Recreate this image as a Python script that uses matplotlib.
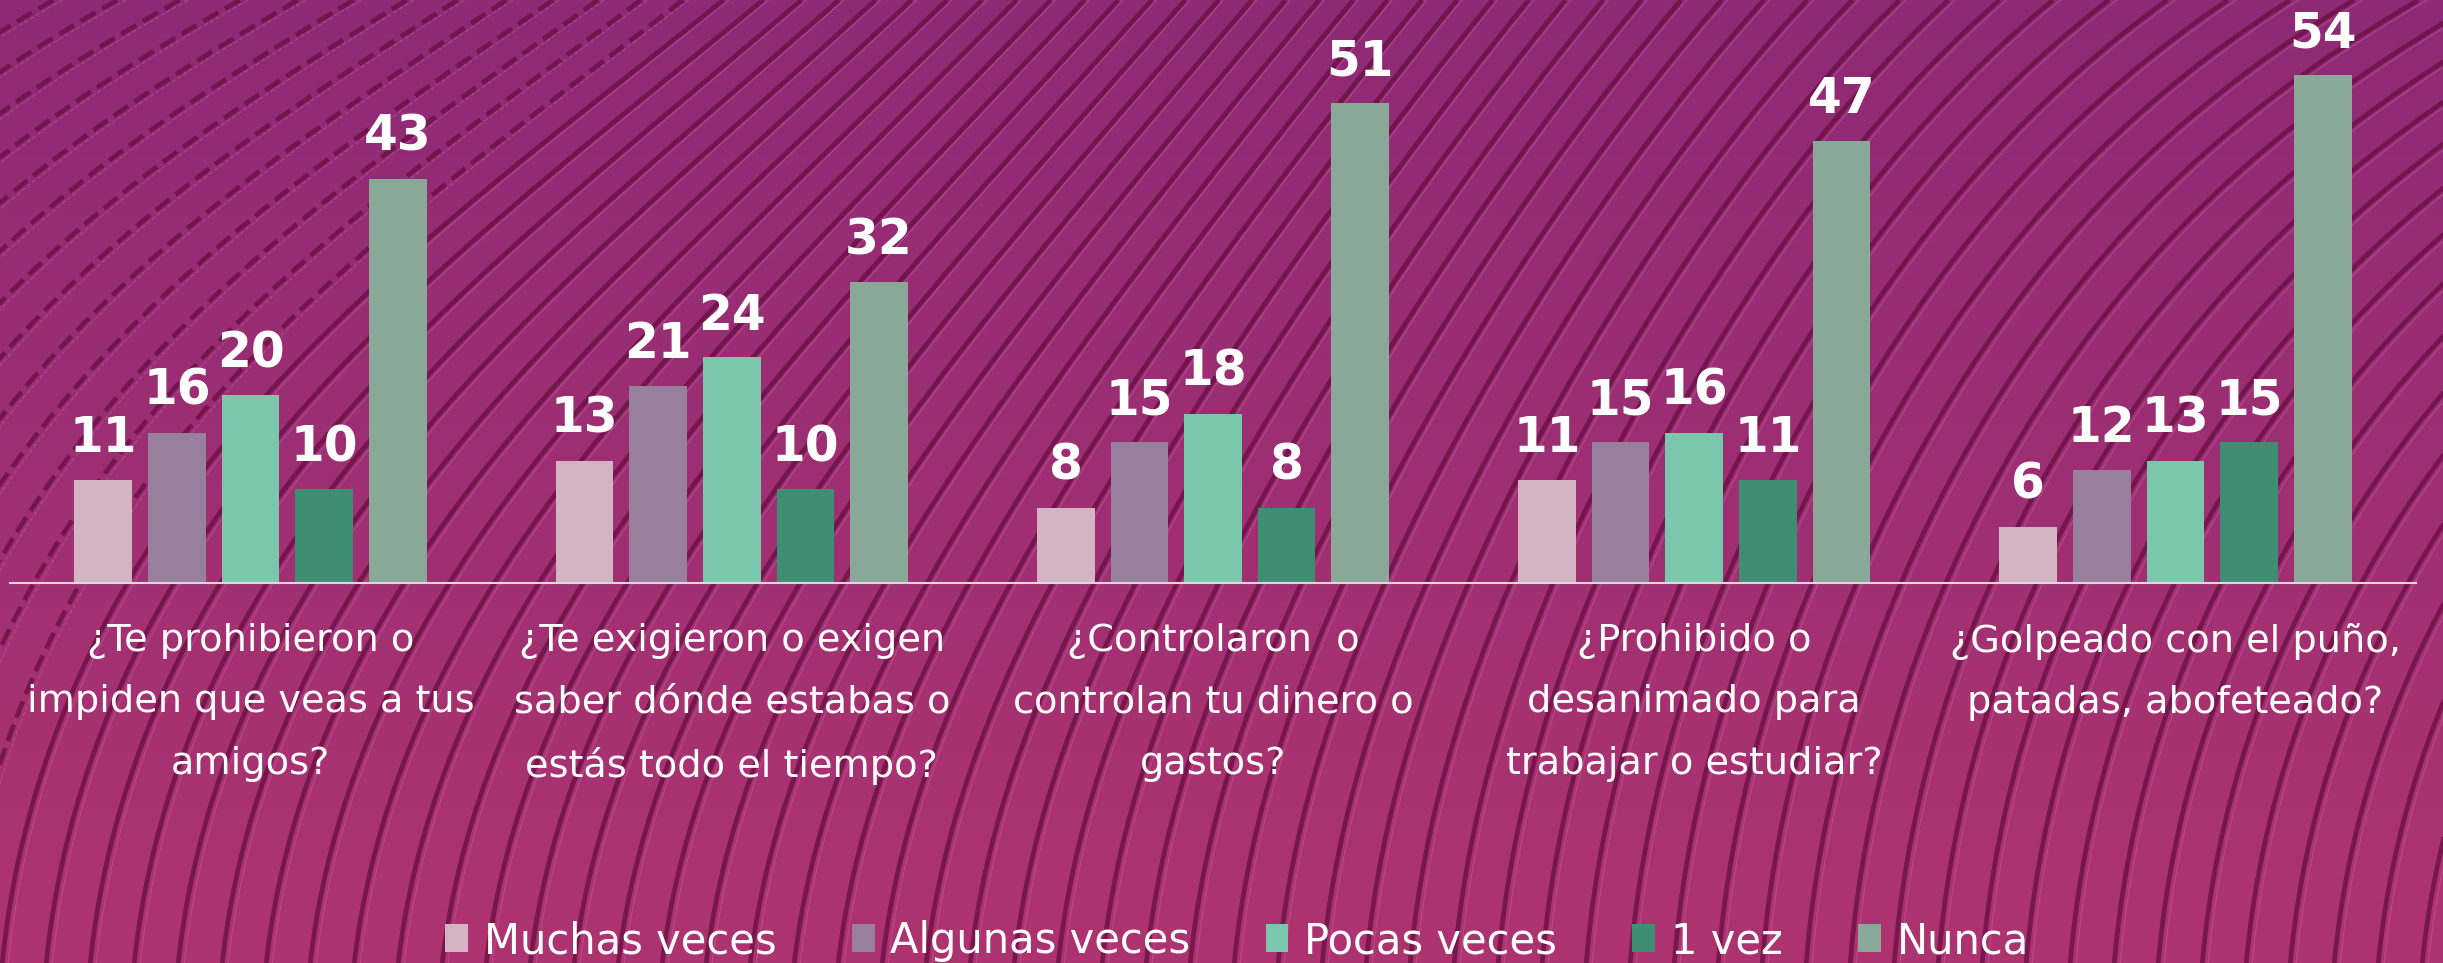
import numpy as np
import matplotlib
matplotlib.use('Agg')
import matplotlib.pyplot as plt

# Datos de la encuesta
categorias = [
    "¿Te prohibieron o\nimpiden que veas a tus\namigos?",
    "¿Te exigieron o exigen\nsaber dónde estabas o\nestás todo el tiempo?",
    "¿Controlaron  o\ncontrolan tu dinero o\ngastos?",
    "¿Prohibido o\ndesanimado para\ntrabajar o estudiar?",
    "¿Golpeado con el puño,\npatadas, abofeteado?",
]
series = ["Muchas veces", "Algunas veces", "Pocas veces", "1 vez", "Nunca"]
muchas = [11, 13, 8, 11, 6]
algunas = [16, 21, 15, 15, 12]
pocas = [20, 24, 18, 16, 13]
una_vez = [10, 10, 8, 11, 15]
nunca = [43, 32, 51, 47, 54]
colores = ["#d3b4c3", "#987f9e", "#7bc7ac", "#3d8e72", "#8aa898"]

W, H = 2443, 963
fig = plt.figure(figsize=(W / 100, H / 100), dpi=100)

# Fondo: degradado magenta con lineas curvas decorativas
bg = fig.add_axes([0, 0, 1, 1], zorder=0)
top = np.array([0x8e, 0x2a, 0x76]) / 255
bot = np.array([0xae, 0x34, 0x70]) / 255
t = np.linspace(0, 1, 200)[:, None, None]
grad = bot * (1 - t) + top * t
bg.imshow(grad, extent=[0, W, 0, H], origin='lower', aspect='auto')
X, Y = np.meshgrid(np.linspace(-200, W + 200, 1500), np.linspace(0, H, 600))
R = 0.0011 * Y ** 2 / 2 + 0.1 * Y
F = X - R * (1 + 0.2 * np.sin(2 * np.pi * X / 2400))
lv = np.arange(F.min(), F.max(), 44)
bg.contour(X, Y, F, levels=lv, colors='#6a1044', linewidths=3.4, alpha=0.8)
bg.contour(X, Y, F, levels=lv + 6, colors='#c85ca2', linewidths=0.9, alpha=0.5)
bg.set_xlim(0, W)
bg.set_ylim(0, H)
bg.axis('off')

ax = fig.add_axes([10 / W, 380 / H, 2406 / W, 583 / H], zorder=1)
ax.patch.set_alpha(0)

x = np.arange(len(categorias))
datos = [muchas, algunas, pocas, una_vez, nunca]
handles = []
for i, (nombre, vals, col) in enumerate(zip(series, datos, colores)):
    pos = x + (i - 2) * 0.153
    b = ax.bar(pos, vals, 0.12, color=col, label=nombre)
    handles.append(b)
    for xi, v in zip(pos, vals):
        ax.annotate(str(v), (xi, v), xytext=(0, 20), textcoords='offset points',
                    ha='center', va='baseline', color='white',
                    fontsize=35, fontweight='bold')

ax.set_xlim(-0.5, 4.5)
ax.set_ylim(0, 62)
ax.set_xticks(x)
ax.set_xticklabels(categorias, fontsize=27.5, color='white', linespacing=1.9)
ax.tick_params(axis='x', length=0, pad=29)
ax.set_yticks([])
for s in ['top', 'left', 'right']:
    ax.spines[s].set_visible(False)
ax.spines['bottom'].set_color('#d9d9d9')
ax.spines['bottom'].set_linewidth(1.5)

fig.legend(handles, series, loc='center', bbox_to_anchor=(1237 / W, 22 / H),
           ncol=5, frameon=False, fontsize=30, handlelength=0.55,
           handleheight=0.66, handletextpad=0.38, columnspacing=1.8,
           labelcolor='white', borderpad=0)

fig.savefig('out.png', dpi=100)
